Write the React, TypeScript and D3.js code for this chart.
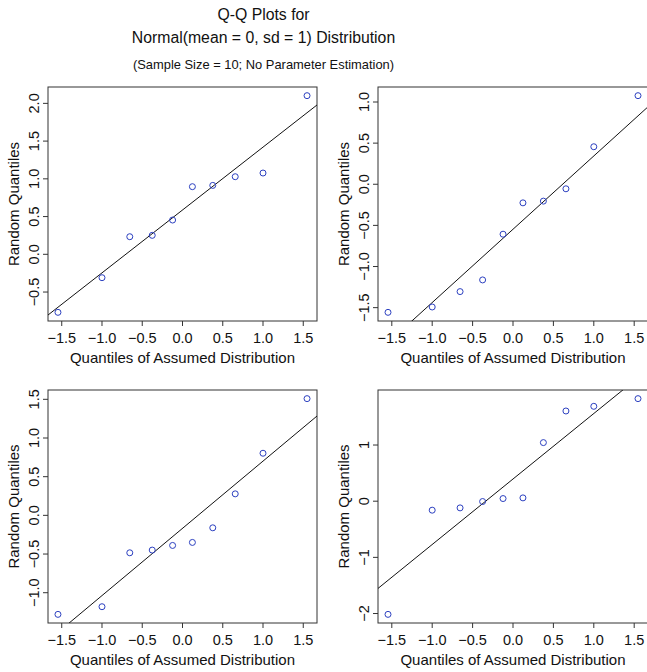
import React from "react";
import * as d3 from "d3";

// Theoretical N(0,1) quantiles (n = 10)
const xQuantiles = [-1.547, -1.0, -0.655, -0.376, -0.123, 0.123, 0.376, 0.655, 1.0, 1.547];

// Sorted random samples, one per panel
const sampleTopLeft = [-0.769, -0.31, 0.233, 0.251, 0.454, 0.896, 0.913, 1.028, 1.077, 2.102];
const sampleTopRight = [-1.557, -1.492, -1.305, -1.163, -0.607, -0.226, -0.205, -0.055, 0.456, 1.077];
const sampleBottomLeft = [-1.28, -1.181, -0.484, -0.449, -0.389, -0.35, -0.161, 0.278, 0.803, 1.509];
const sampleBottomRight = [-2.015, -0.16, -0.119, -0.006, 0.047, 0.059, 1.043, 1.606, 1.689, 1.826];

// Reference lines (intercept, slope)
const lineIntercepts = [0.587, -0.547, -0.168, 0.395];
const lineSlopes = [0.833, 0.891, 0.869, 1.166];

// Tick values
const xTicks = [-1.5, -1.0, -0.5, 0.0, 0.5, 1.0, 1.5];
const yTicksTopLeft = [-0.5, 0.0, 0.5, 1.0, 1.5, 2.0];
const yTicksTopRight = [-1.5, -1.0, -0.5, 0.0, 0.5, 1.0];
const yTicksBottomLeft = [-1.0, -0.5, 0.0, 0.5, 1.0, 1.5];
const yTicksBottomRight = [-2, -1, 0, 1];

const titleLines = ["Q-Q Plots for", "Normal(mean = 0, sd = 1) Distribution"];
const subTitle = "(Sample Size = 10; No Parameter Estimation)";
const xLabel = "Quantiles of Assumed Distribution";
const yLabel = "Random Quantiles";

const W = 647;
const H = 672;
const FONT = "'Liberation Sans', Arial, Helvetica, sans-serif";

const panels = [
  { sample: sampleTopLeft, yTicks: yTicksTopLeft, fmt: ".1f", box: [48, 317, 87, 321] },
  { sample: sampleTopRight, yTicks: yTicksTopRight, fmt: ".1f", box: [378, 648, 87, 321] },
  { sample: sampleBottomLeft, yTicks: yTicksBottomLeft, fmt: ".1f", box: [48, 317, 390, 623] },
  { sample: sampleBottomRight, yTicks: yTicksBottomRight, fmt: "d", box: [378, 648, 390, 623] },
];

function padExtent(vals: number[]): [number, number] {
  const [a, b] = d3.extent(vals) as [number, number];
  const p = (b - a) * 0.04;
  return [a - p, b + p];
}

function Panel({ idx }: { idx: number }) {
  const p = panels[idx];
  const [x0, x1, y0, y1] = p.box;
  const xs = d3.scaleLinear().domain(padExtent(xQuantiles)).range([x0, x1]);
  const ys = d3.scaleLinear().domain(padExtent(p.sample)).range([y1, y0]);
  const fmt = d3.format(p.fmt);
  const [dx0, dx1] = xs.domain();
  const a = lineIntercepts[idx];
  const b = lineSlopes[idx];
  const linePath = d3.line<number>()
    .x((d) => xs(d))
    .y((d) => ys(a + b * d))([dx0, dx1]);
  const clipId = `clip${idx}`;
  const cy = (y0 + y1) / 2;
  return (
    <g>
      <defs>
        <clipPath id={clipId}>
          <rect x={x0} y={y0} width={x1 - x0} height={y1 - y0} />
        </clipPath>
      </defs>
      <rect x={x0} y={y0} width={x1 - x0} height={y1 - y0} fill="none" stroke="#333" strokeWidth={1} />
      <path d={linePath || ""} stroke="#111" strokeWidth={1} fill="none" clipPath={`url(#${clipId})`} />
      {p.sample.map((v, i) => (
        <circle key={i} cx={xs(xQuantiles[i])} cy={ys(v)} r={3} fill="none" stroke="#2c40c0" strokeWidth={1} />
      ))}
      {xTicks.map((t) => (
        <g key={t}>
          <line x1={xs(t)} x2={xs(t)} y1={y1} y2={y1 + 5} stroke="#333" />
          <text x={xs(t)} y={y1 + 22} textAnchor="middle" fontSize={14.5} fontFamily={FONT} fill="#111">
            {d3.format(".1f")(t)}
          </text>
        </g>
      ))}
      {p.yTicks.map((t) => (
        <g key={t}>
          <line x1={x0 - 5} x2={x0} y1={ys(t)} y2={ys(t)} stroke="#333" />
          <text
            transform={`translate(${x0 - 9},${ys(t)}) rotate(-90)`}
            textAnchor="middle"
            fontSize={14.5}
            fontFamily={FONT}
            fill="#111"
          >
            {fmt(t)}
          </text>
        </g>
      ))}
      <text x={(x0 + x1) / 2} y={y1 + 42} textAnchor="middle" fontSize={15} fontFamily={FONT} fill="#111">
        {xLabel}
      </text>
      <text
        transform={`translate(${x0 - 29},${cy}) rotate(-90)`}
        textAnchor="middle"
        fontSize={15}
        fontFamily={FONT}
        fill="#111"
      >
        {yLabel}
      </text>
    </g>
  );
}

export default function App() {
  return (
    <svg width={W} height={H} style={{ position: "absolute", left: 0, top: 0, background: "#fff" }}>
      <rect x={0} y={0} width={W} height={H} fill="#fff" />
      <text x={263.5} y={20} textAnchor="middle" fontSize={15.8} fontFamily={FONT} fill="#111">
        {titleLines[0]}
      </text>
      <text x={263.5} y={43} textAnchor="middle" fontSize={15.8} fontFamily={FONT} fill="#111">
        {titleLines[1]}
      </text>
      <text x={263.5} y={69} textAnchor="middle" fontSize={12.9} fontFamily={FONT} fill="#111">
        {subTitle}
      </text>
      {panels.map((_, i) => (
        <Panel key={i} idx={i} />
      ))}
    </svg>
  );
}
